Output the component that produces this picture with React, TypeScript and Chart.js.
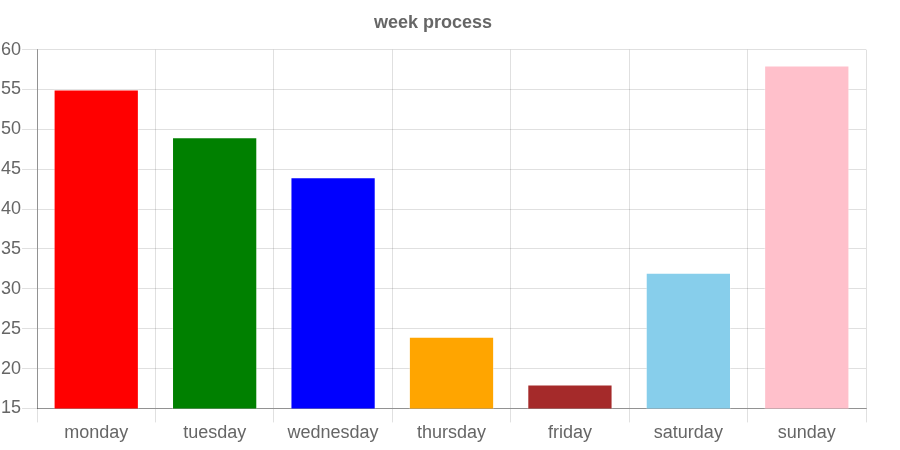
import React, { useEffect, useRef } from "react";
import { Chart, registerables } from "chart.js";

Chart.register(...registerables);

const categories = ["monday", "tuesday", "wednesday", "thursday", "friday", "saturday", "sunday"];
const values = [55, 49, 44, 24, 18, 32, 58];
const colors = ["red", "green", "blue", "orange", "brown", "skyblue", "pink"];
const chartTitle = "week process";

export default function App() {
  const ref = useRef<HTMLCanvasElement | null>(null);
  useEffect(() => {
    document.body.style.margin = "0";
    const font = "Arial, 'Liberation Sans', Helvetica, sans-serif";
    const chart = new Chart(ref.current!, {
      type: "bar",
      data: {
        labels: categories,
        datasets: [
          {
            label: "week",
            data: values,
            backgroundColor: colors,
            borderColor: "rgba(255,255,255,0.4)",
            borderWidth: 1,
          },
        ],
      },
      options: {
        responsive: false,
        animation: false,
        layout: { padding: { left: 0, right: 34, top: 0, bottom: 6 } },
        plugins: {
          legend: { display: false },
          title: {
            display: true,
            text: chartTitle,
            color: "#666",
            font: { family: font, size: 18, weight: "bold" },
            padding: { top: 12, bottom: 16 },
          },
          tooltip: { enabled: false },
        },
        scales: {
          x: {
            grid: { color: "rgba(0,0,0,0.12)", tickLength: 14, offset: true },
            border: { color: "rgba(0,0,0,0.35)" },
            ticks: { color: "#666", font: { family: font, size: 18 }, padding: 0 },
          },
          y: {
            min: 15,
            max: 60,
            grid: { color: "rgba(0,0,0,0.12)", tickLength: 15 },
            border: { color: "rgba(0,0,0,0.35)" },
            ticks: { color: "#666", font: { family: font, size: 18 }, stepSize: 5, padding: 1 },
          },
        },
      },
    });
    return () => chart.destroy();
  }, []);
  return (
    <div style={{ position: "absolute", left: 0, top: 0, width: 900, height: 450 }}>
      <canvas ref={ref} width={900} height={450} style={{ width: 900, height: 450 }} />
    </div>
  );
}
